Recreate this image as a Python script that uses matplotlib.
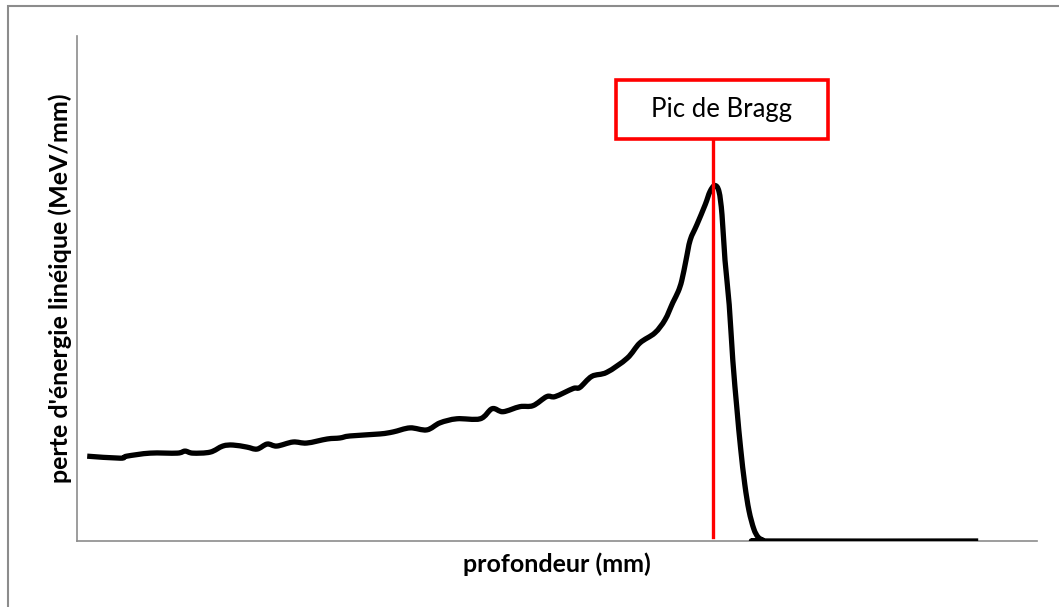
import matplotlib
matplotlib.use("Agg")
import matplotlib.pyplot as plt
from matplotlib.patches import Rectangle, PathPatch
from matplotlib.path import Path

# Linear energy loss of a proton beam versus depth (Bragg curve)
depth_mm = [1.7, 7.2, 8.3, 12.2, 16.7, 18.0, 19.3, 22.2, 24.3, 26.0, 28.3, 30.0,
            31.7, 33.3, 36.0, 38.3, 41.7, 43.8, 45.5, 50.5, 52.7, 55.5, 58.3,
            60.5, 63.3, 67.2, 69.2, 71.0, 73.8, 76.0, 78.3, 79.7, 82.7, 83.8,
            85.8, 88.3, 91.7, 93.8, 96.3, 98.0, 99.3, 100.2, 100.8, 101.5,
            102.2, 103.3, 104.7, 105.5, 106.3, 107.0, 107.5, 108.0, 108.7,
            109.3, 110.0, 110.6, 111.3, 112.0, 112.8, 113.5, 114.3, 115.5, 150.2]
energy_loss = [8.4, 8.2, 8.4, 8.7, 8.7, 8.9, 8.7, 8.8, 9.4, 9.5, 9.3, 9.1,
               9.6, 9.4, 9.8, 9.7, 10.1, 10.2, 10.4, 10.6, 10.8, 11.2, 11.0,
               11.7, 12.1, 12.1, 13.1, 12.8, 13.3, 13.4, 14.3, 14.3, 15.1, 15.2,
               16.3, 16.7, 18.1, 19.6, 20.6, 21.9, 23.6, 24.7, 25.8, 27.8,
               29.8, 31.3, 33.3, 34.6, 35.2, 34.6, 32.3, 27.8, 23.4,
               17.9, 13.0, 9.2, 5.6, 3.0, 1.2, 0.4, 0.1, 0.0, 0.0]

peak_depth = 106.0
peak_label = "Pic de Bragg"
x_label = "profondeur (mm)"
y_label = "perte d'énergie linéique (MeV/mm)"

plt.rcParams['font.family'] = ['Lato', 'DejaVu Sans']


def smooth_path(xs, ys):
    """Smoothed line through the points (cubic Bezier segments, Catmull-Rom tangents)."""
    verts = [(xs[0], ys[0])]
    codes = [Path.MOVETO]
    n = len(xs)
    for i in range(n - 1):
        x0, y0 = (xs[i - 1], ys[i - 1]) if i > 0 else (xs[i], ys[i])
        x1, y1 = xs[i], ys[i]
        x2, y2 = xs[i + 1], ys[i + 1]
        x3, y3 = (xs[i + 2], ys[i + 2]) if i + 2 < n else (x2, y2)
        c1 = (x1 + (x2 - x0) / 6.0, y1 + (y2 - y0) / 6.0)
        c2 = (x2 - (x3 - x1) / 6.0, y2 - (y3 - y1) / 6.0)
        verts += [c1, c2, (x2, y2)]
        codes += [Path.CURVE4] * 3
    return Path(verts, codes)


W, H = 1059, 607
fig = plt.figure(figsize=(W / 100, H / 100), dpi=100)

# outer chart frame
fig.patches.append(Rectangle((8 / W, -0.05), 1.05, 1 - 6 / H + 0.05,
                             transform=fig.transFigure, fill=False,
                             edgecolor="#8c8c8c", linewidth=1.5))

ax = fig.add_axes([77 / W, (H - 541) / H, 960 / W, 505 / H])
ax.set_xlim(0, 160)
ax.set_ylim(0, 50)

ax.add_patch(PathPatch(smooth_path(depth_mm, energy_loss), facecolor="none",
                       edgecolor="black", linewidth=3.8, joinstyle="round",
                       capstyle="butt", zorder=3))

# box with the peak label and its pointer line
box_x0, box_x1 = 89.8, 125.2
box_y0, box_y1 = 39.8, 45.6
ax.plot([peak_depth, peak_depth], [0.4, box_y0], color="#ff0000",
        linewidth=2.4, zorder=4, clip_on=False)
ax.add_patch(Rectangle((box_x0, box_y0), box_x1 - box_x0, box_y1 - box_y0,
                       fill=True, facecolor="white", edgecolor="#ff0000",
                       linewidth=2.6, zorder=5, clip_on=False))
ax.text((box_x0 + box_x1) / 2, (box_y0 + box_y1) / 2, peak_label,
        ha="center", va="center", fontsize=18.5, color="black", zorder=6)

for side in ("top", "right"):
    ax.spines[side].set_visible(False)
for side in ("left", "bottom"):
    ax.spines[side].set_color("#8c8c8c")
    ax.spines[side].set_linewidth(1.2)
ax.set_xticks([])
ax.set_yticks([])

ax.set_xlabel(x_label, fontsize=18, fontweight="bold", labelpad=8)
ax.yaxis.set_label_coords(-5 / 960, 0.5)
ax.set_ylabel(y_label, fontsize=18, fontweight="bold")

fig.savefig("out.png", dpi=100)
